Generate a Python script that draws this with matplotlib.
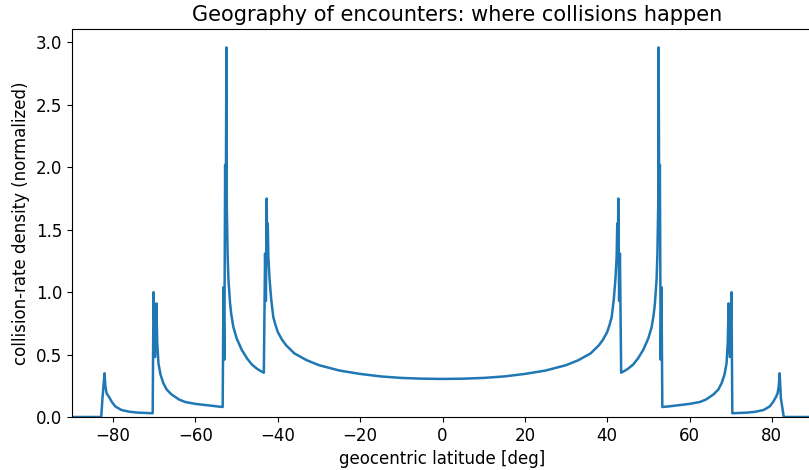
import matplotlib
matplotlib.use("Agg")
import matplotlib.pyplot as plt
import numpy as np

# latitude [deg] and normalized collision-rate density
lat_pos = [0, 5, 10, 15, 20, 25, 30, 33, 36, 38, 39, 40, 40.6, 41.1, 41.6, 42.0, 42.3,
           42.45, 42.6, 42.7, 42.9, 43.1, 43.4,
           44, 45, 46.3, 47.5, 48.8, 50, 50.8, 51.3, 51.6, 52.0, 52.2, 52.4,
           52.5, 52.65, 52.8, 53.0, 53.2, 53.4,
           55, 57.7, 60, 62.5, 64, 65.8, 67, 67.8, 68.5, 69.0, 69.3,
           69.5, 69.8, 70.2, 70.4,
           72, 74, 76, 78, 79.5, 80.3, 81, 81.4, 81.7, 81.9, 82.2, 82.9, 90]
dens_pos = [0.305, 0.307, 0.313, 0.325, 0.345, 0.372, 0.415, 0.455, 0.51, 0.575, 0.62, 0.68, 0.74, 0.80, 0.94, 1.10, 1.28,
            1.55, 1.25, 1.75, 0.93, 1.31, 0.355,
            0.365, 0.385, 0.42, 0.47, 0.54, 0.63, 0.72, 0.82, 0.91, 1.10, 1.30, 1.70,
            2.96, 1.55, 2.02, 0.46, 1.04, 0.08,
            0.085, 0.096, 0.105, 0.12, 0.14, 0.18, 0.22, 0.27, 0.34, 0.43, 0.60,
            0.91, 0.48, 1.00, 0.03,
            0.032, 0.035, 0.042, 0.056, 0.085, 0.12, 0.16, 0.19, 0.25, 0.35, 0.15, 0.0, 0.0]

lat_neg = [-90, -82.9, -82.6, -82.1, -81.9, -81.6, -81.0, -80.3, -79.5, -78, -76, -74, -72,
           -70.4, -70.2, -69.8, -69.5, -69.3, -69.0, -68.5, -67.8, -67, -65.8, -64, -62.5, -60, -57.7, -55,
           -53.4, -53.2, -53.0, -52.8, -52.65, -52.5,
           -52.4, -52.2, -52.0, -51.6, -51.3, -50.8, -50, -48.8, -47.5, -46.3, -45, -44,
           -43.4, -43.1, -42.9, -42.7, -42.6, -42.45,
           -42.3, -42.0, -41.6, -41.1, -40.6, -40, -39, -38, -36, -33, -30, -25, -20, -15, -10, -5]
dens_neg = [0.0, 0.0, 0.15, 0.35, 0.25, 0.19, 0.16, 0.12, 0.085, 0.056, 0.042, 0.035, 0.032,
            0.03, 1.00, 0.48, 0.91, 0.60, 0.43, 0.34, 0.27, 0.22, 0.18, 0.14, 0.12, 0.105, 0.096, 0.085,
            0.08, 1.04, 0.46, 2.02, 1.55, 2.96,
            1.70, 1.30, 1.10, 0.91, 0.82, 0.72, 0.63, 0.54, 0.47, 0.42, 0.385, 0.365,
            0.355, 1.31, 0.93, 1.75, 1.25, 1.55,
            1.28, 1.10, 0.94, 0.80, 0.74, 0.68, 0.62, 0.575, 0.51, 0.455, 0.415, 0.372, 0.345, 0.325, 0.313, 0.307]

lat = np.array(lat_neg + lat_pos)
dens = np.array(dens_neg + dens_pos)

fig = plt.figure(figsize=(8.09, 4.70), dpi=100)
ax = fig.add_axes([72 / 809, 1 - 417 / 470, 741 / 809, 388 / 470])
ax.plot(lat, dens, color="#1f77b4", lw=1.8)
ax.set_xlim(-90, 90)
ax.set_ylim(0, 2.96 * 1.05)
ax.set_xlabel("geocentric latitude [deg]", fontsize=12)
ax.set_ylabel("collision-rate density (normalized)", fontsize=12)
ax.set_title("Geography of encounters: where collisions happen", fontsize=15,
             x=(457 - 72) / 741)
ax.tick_params(labelsize=12)
fig.savefig("out.png", dpi=100)
